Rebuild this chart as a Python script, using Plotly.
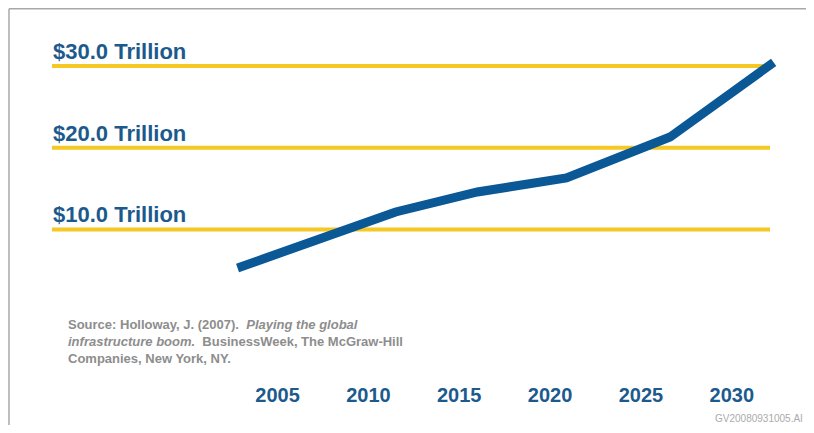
import plotly.graph_objects as go

# Data (trillions USD)
years = [2002.8, 2011.5, 2016.0, 2020.9, 2026.6, 2032.3]
values = [5.28, 12.13, 14.58, 16.29, 21.30, 30.43]

tick_years = [2005, 2010, 2015, 2020, 2025, 2030]
tick_year_labels = ["2005", "2010", "2015", "2020", "2025", "2030"]
level_values = [10, 20, 30]
level_labels = ["$10.0 Trillion", "$20.0 Trillion", "$30.0 Trillion"]

BLUE = "#0b5897"
TEXTBLUE = "#1c5a8d"
GOLD = "#f6c823"
FONT = "Liberation Sans, Arial, sans-serif"

OFF = 8  # page body margin
W, H = 814 - 2 * OFF, 433 - 2 * OFF
L, T = 52 - OFF, 40 - OFF
R = W - (780 - OFF)
B = H - (378 - OFF)
pw, ph = W - L - R, H - T - B

def px(x):  # screen x -> paper
    return (x - OFF - L) / pw

def py(y):  # screen y -> paper
    return (H - B - (y - OFF)) / ph

fig = go.Figure()

fig.add_trace(go.Scatter(
    x=years, y=values, mode="lines",
    line=dict(color=BLUE, width=9),
    hoverinfo="skip", showlegend=False,
))

shapes = []
for v in level_values:
    shapes.append(dict(type="line", xref="paper", yref="y",
                       x0=0, x1=px(770), y0=v, y1=v,
                       line=dict(color=GOLD, width=4), layer="below"))
# frame lines (top and left)
shapes.append(dict(type="line", xref="paper", yref="paper",
                   x0=px(9), x1=px(830), y0=py(8.8), y1=py(8.8),
                   line=dict(color="#a8a8a8", width=1.5)))
shapes.append(dict(type="line", xref="paper", yref="paper",
                   x0=px(9), x1=px(9), y0=py(8.8), y1=py(440),
                   line=dict(color="#a8a8a8", width=1.5)))

annotations = []
for v, lab in zip(level_values, level_labels):
    annotations.append(dict(x=px(51), y=v, xref="paper", yref="y",
                            xanchor="left", yanchor="bottom", yshift=0,
                            text="<b>" + lab + "</b>", showarrow=False,
                            font=dict(family=FONT, size=22, color=TEXTBLUE)))

annotations.append(dict(
    x=px(66), y=py(315), xref="paper", yref="paper",
    xanchor="left", yanchor="top", align="left", showarrow=False,
    text=("<b>Source: Holloway, J. (2007).  <i>Playing the global</i><br>"
          "<i>infrastructure boom.</i>  BusinessWeek, The McGraw-Hill<br>"
          "Companies, New York, NY.</b>"),
    font=dict(family=FONT, size=13, color="#8d8d8d"),
))
annotations.append(dict(
    x=px(805), y=py(418), xref="paper", yref="paper",
    xanchor="right", yanchor="middle", showarrow=False,
    text="GV20080931005.AI",
    font=dict(family=FONT, size=10, color="#ababab"),
))

fig.update_layout(
    width=W, height=H,
    margin=dict(l=L, r=R, t=T, b=B),
    paper_bgcolor="white", plot_bgcolor="white",
    shapes=shapes, annotations=annotations,
    xaxis=dict(range=[1992.59, 2032.65], tickvals=tick_years,
               ticktext=["<b>" + t + "</b>" for t in tick_year_labels],
               showgrid=False, zeroline=False, showline=False,
               ticks="", ticklabelstandoff=3,
               tickfont=dict(family=FONT, size=20, color=TEXTBLUE)),
    yaxis=dict(range=[-8.18, 33.17], showgrid=False, zeroline=False,
               showline=False, showticklabels=False, ticks=""),
)

fig.write_html("out.html")
